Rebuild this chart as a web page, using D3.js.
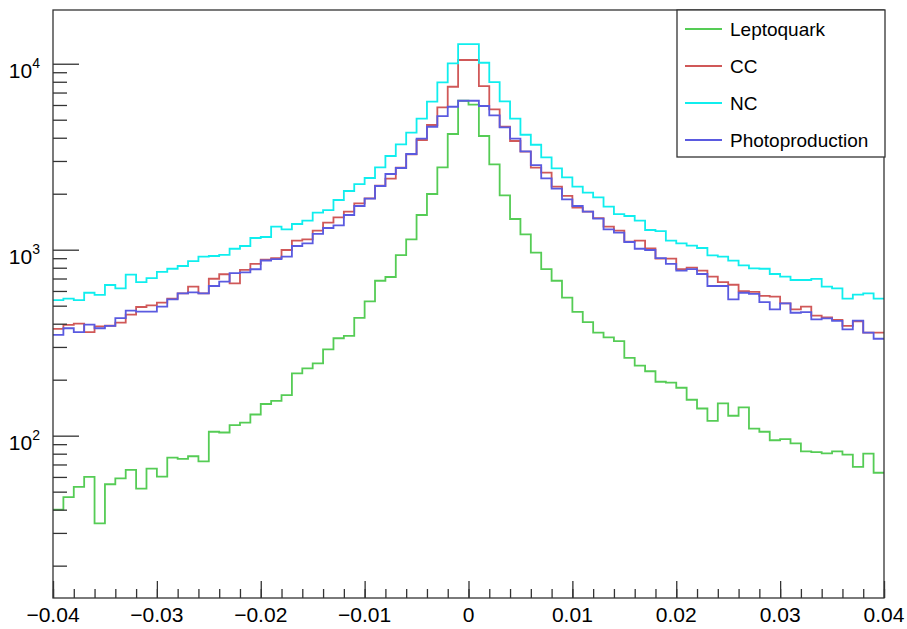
<!DOCTYPE html>
<meta charset="utf-8">
<style>
  body { margin: 0; background: #fff; }
  text { font-family: "Liberation Sans", Arial, sans-serif; fill: #000; }
</style>
<div id="my_dataviz"></div>
<script src="https://d3js.org/d3.v7.min.js"></script>
<script>

// histogram binning: 80 bins between -0.04 and 0.04
var xMin = -0.04, xMax = 0.04, nBins = 80;

// bin contents, left to right
var leptoquark = [40, 46.7, 53, 60, 33.8, 54.8, 59, 65.4, 51.9, 66.5,
  60.2, 76.2, 75, 77.5, 72.8, 105, 104, 114, 117.5, 130,
  148, 154, 165, 216, 230, 245, 291, 334, 344, 430,
  528, 681, 713, 935, 1137, 1537, 1993, 2773, 4190, 6325,
  6030, 4086, 2878, 1961, 1462, 1210, 965, 787, 681, 553,
  463, 408, 358, 338, 322, 262, 238, 222, 195, 193,
  181, 156, 140, 120, 149, 128, 142, 109, 105, 94.5,
  95.7, 91, 82.4, 81.5, 80.4, 82.4, 79.1, 67.9, 80, 63.2];

var cc = [375, 394, 400, 360, 387, 390, 405, 448, 492, 502,
  519, 545, 583, 633, 583, 698, 738, 659, 778, 838,
  885, 902, 996, 1118, 1137, 1265, 1397, 1493, 1601, 1776,
  1889, 2208, 2409, 2760, 3258, 3890, 4682, 5830, 7521, 10470,
  10470, 7587, 5687, 4584, 3841, 3365, 2760, 2594, 2182, 1945,
  1682, 1601, 1480, 1330, 1265, 1104, 1118, 1017, 895, 895,
  787, 800, 771, 716, 670, 648, 598, 593, 564, 560,
  515, 478, 494, 442, 433, 419, 389, 412, 358, 358];

var nc = [536, 546, 536, 587, 571, 646, 620, 734, 670, 704,
  759, 790, 817, 869, 917, 925, 937, 1012, 1047, 1156,
  1170, 1330, 1287, 1375, 1432, 1581, 1634, 1850, 2069, 2255,
  2430, 2773, 3190, 3686, 4256, 5062, 6250, 7940, 10050, 12760,
  12760, 10120, 7970, 6280, 5062, 4150, 3668, 3138, 2739, 2450,
  2182, 2025, 1913, 1703, 1555, 1518, 1432, 1276, 1260, 1118,
  1082, 1051, 1021, 933, 917, 873, 824, 794, 790, 740,
  716, 687, 687, 696, 633, 620, 545, 573, 583, 545];

var photoproduction = [348, 378, 360, 395, 378, 389, 429, 470, 464, 464,
  494, 541, 583, 590, 583, 638, 673, 749, 756, 785,
  875, 890, 917, 1047, 1082, 1215, 1308, 1352, 1537, 1718,
  1880, 2200, 2553, 2750, 3270, 3953, 4584, 5233, 5870, 6325,
  6325, 5925, 5279, 4550, 3953, 3380, 2853, 2420, 2128, 1866,
  1718, 1601, 1470, 1287, 1234, 1100, 1012, 996, 902, 838,
  771, 787, 740, 638, 638, 541, 587, 578, 523, 478,
  515, 458, 462, 422, 427, 414, 373, 416, 358, 332];

var seriesNames = ["Leptoquark", "CC", "NC", "Photoproduction"];
var seriesValues = [leptoquark, cc, nc, photoproduction];
var seriesColors = ["#55cc55", "#d05858", "#10eeee", "#5a5ae0"];

// axis labels
var xTicks = [-0.04, -0.03, -0.02, -0.01, 0, 0.01, 0.02, 0.03, 0.04];
var yTicks = [100, 1000, 10000];
var yTickExp = ["2", "3", "4"];
var yMin = 13.4, yMax = 19450;

var W = 907, H = 629;
var margin = {top: 10, right: 23, bottom: 31, left: 53};

var svg = d3.select("#my_dataviz")
  .append("svg")
    .attr("width", W)
    .attr("height", H);

var x = d3.scaleLinear()
  .domain([xMin, xMax])
  .range([margin.left, W - margin.right]);

var y = d3.scaleLog()
  .domain([yMin, yMax])
  .range([H - margin.bottom, margin.top]);

// histograms as steps
var binW = (xMax - xMin) / nBins;
var line = d3.line()
  .x(function(d) { return x(d[0]); })
  .y(function(d) { return y(d[1]); })
  .curve(d3.curveStepAfter);

seriesValues.forEach(function(vals, k) {
  var pts = vals.map(function(v, i) { return [xMin + i * binW, v]; });
  pts.push([xMax, vals[vals.length - 1]]);
  svg.append("path")
    .datum(pts)
    .attr("fill", "none")
    .attr("stroke", seriesColors[k])
    .attr("stroke-width", 1.8)
    .attr("d", line);
});

// frame
svg.append("rect")
  .attr("x", x(xMin))
  .attr("y", margin.top)
  .attr("width", x(xMax) - x(xMin))
  .attr("height", H - margin.bottom - margin.top)
  .attr("fill", "none")
  .attr("stroke", "#333")
  .attr("stroke-width", 1.3);

// x axis: minor ticks every 0.002, major every 0.01
var xMinor = d3.range(0, 41).map(function(i) { return xMin + i * 0.002; });
svg.append("g")
  .attr("transform", "translate(0," + (H - margin.bottom) + ")")
  .call(d3.axisTop(x).tickValues(xMinor).tickSize(9).tickFormat(""))
  .call(function(g) { g.select(".domain").remove(); });

var gx = svg.append("g")
  .attr("transform", "translate(0," + (H - margin.bottom) + ")")
  .call(d3.axisTop(x).tickValues(xTicks).tickSize(17).tickFormat(""));
gx.select(".domain").remove();

svg.append("g")
  .selectAll("text")
  .data(xTicks)
  .enter().append("text")
    .attr("x", function(d) { return x(d); })
    .attr("y", H - 7)
    .attr("text-anchor", "middle")
    .attr("font-size", 21)
    .text(function(d) { return d3.format("~g")(d); });

// y axis: minor ticks 2..9 per decade, major at decades
var yMinorTicks = [];
[10, 100, 1000].forEach(function(dec) {
  for (var m = 2; m <= 9; m++) if (m * dec > yMin && m * dec < yMax) yMinorTicks.push(m * dec);
});
svg.append("g")
  .attr("transform", "translate(" + margin.left + ",0)")
  .call(d3.axisRight(y).tickValues(yMinorTicks).tickSize(14).tickFormat(""))
  .call(function(g) { g.select(".domain").remove(); });

var gy = svg.append("g")
  .attr("transform", "translate(" + margin.left + ",0)")
  .call(d3.axisRight(y).tickValues(yTicks).tickSize(26).tickFormat(""));
gy.select(".domain").remove();
svg.selectAll(".tick line").attr("stroke", "#333").attr("stroke-width", 1.3);

var ylab = svg.append("g")
  .selectAll("text")
  .data(yTicks)
  .enter().append("text")
    .attr("x", margin.left - 13)
    .attr("y", function(d) { return y(d) + 14; })
    .attr("text-anchor", "end")
    .attr("font-size", 21);
ylab.append("tspan").text("10");
ylab.append("tspan")
  .attr("dy", -10)
  .attr("font-size", 14)
  .text(function(d, i) { return yTickExp[i]; });

// legend
var lg = svg.append("g");
lg.append("rect")
  .attr("x", 677)
  .attr("y", 10)
  .attr("width", 208)
  .attr("height", 147)
  .attr("fill", "#fff")
  .attr("stroke", "#333")
  .attr("stroke-width", 1.3);

var item = lg.selectAll("g.item")
  .data(seriesNames)
  .enter().append("g")
    .attr("class", "item")
    .attr("transform", function(d, i) { return "translate(0," + (29 + i * 37) + ")"; });

item.append("line")
  .attr("x1", 685)
  .attr("x2", 722)
  .attr("stroke", function(d, i) { return seriesColors[i]; })
  .attr("stroke-width", 1.8);

item.append("text")
  .attr("x", 730)
  .attr("dy", "0.35em")
  .attr("font-size", 19)
  .text(function(d) { return d; });

</script>
